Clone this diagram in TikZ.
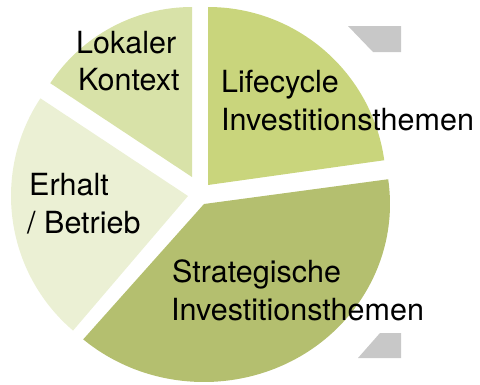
\documentclass[tikz,border=0pt]{standalone}
\usepackage{fontspec}
\setmainfont{TeX Gyre Heros}
\definecolor{cLife}{RGB}{201,213,124}
\definecolor{cStrat}{RGB}{180,191,111}
\definecolor{cLokal}{RGB}{216,226,168}
\definecolor{cErhalt}{RGB}{235,240,212}
\definecolor{cGray}{RGB}{200,200,200}
\tikzset{
  slice/.style={draw=none},
  lbl/.style={inner sep=0pt, anchor=base west, font=\fontsize{30.5}{36}\selectfont, text=black},
}
\begin{document}
\begin{tikzpicture}[x=1pt,y=1pt]
\useasboundingbox (0,0) rectangle (480,-384);
% slices
\fill[cLife] (208,-185) -- ++(8:178) arc[start angle=8, end angle=90, radius=178] -- cycle;
\fill[cLokal] (192,-177) -- ++(90:170) arc[start angle=90, end angle=146.5, radius=170] -- cycle;
\fill[cErhalt] (188,-196) -- ++(146.5:177) arc[start angle=146.5, end angle=229.5, radius=177] -- cycle;
\fill[cStrat] (204,-204) -- ++(-130.5:186 and 178) arc[start angle=-130.5, end angle=8, x radius=186, y radius=178] -- cycle;
% gray shapes
\fill[cGray] (348,-26) -- (401,-26) -- (401,-52) -- (373,-52) -- cycle;
\fill[cGray] (380,-333) -- (401,-333) -- (401,-358) -- (358,-358) -- cycle;
% labels
\node[lbl] (lok1) at (76,-53) {Lokaler};
\node[lbl] (lok2) at (78,-90.5) {Kontext};
\node[lbl] (lif1) at (221,-92.5) {Lifecycle};
\node[lbl] (lif2) at (221,-130) {Investitionsthemen};
\node[lbl] (erh1) at (29,-195) {Erhalt};
\node[lbl] (erh2) at (27,-233) {/ Betrieb};
\node[lbl] (str1) at (172,-282) {Strategische};
\node[lbl] (str2) at (171,-320) {Investitionsthemen};
\end{tikzpicture}
\end{document}
